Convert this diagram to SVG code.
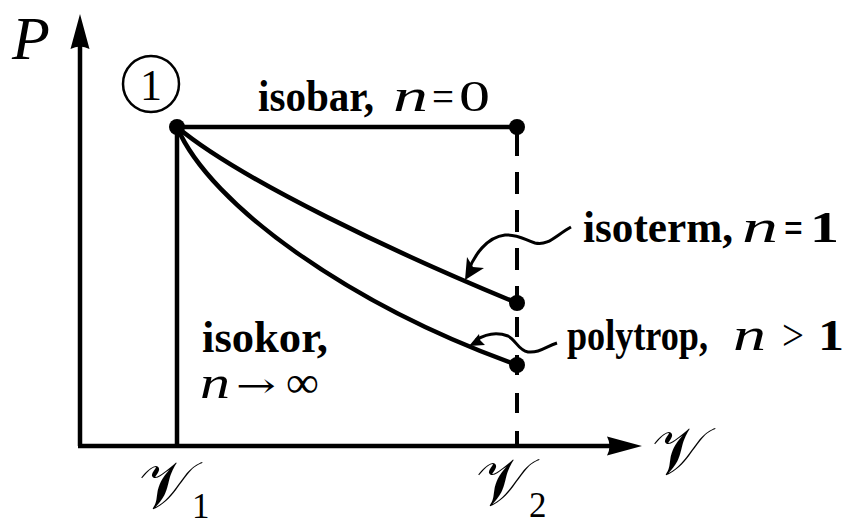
<svg xmlns="http://www.w3.org/2000/svg" width="851" height="525" viewBox="0 0 851 525">
<style>
.ln{fill:none;stroke:#000;stroke-width:4.5;stroke-linecap:butt}
.cv{fill:none;stroke:#000;stroke-width:4.5}
.ptr{fill:none;stroke:#000;stroke-width:3}
.dash{fill:none;stroke:#000;stroke-width:4}
.b{font-family:"Liberation Serif","Times New Roman",serif;font-weight:bold;font-size:44px;fill:#000}
.m{font-family:"Liberation Serif","Times New Roman",serif;font-style:italic;font-size:46px;fill:#000}
.r{font-family:"Liberation Serif","Times New Roman",serif;font-size:44px;fill:#000}
.sc{font-family:"DejaVu Serif","DejaVu Sans","Liberation Serif",serif;font-size:66px;fill:#000}
.sub{font-family:"Liberation Serif","Times New Roman",serif;font-size:35px}
</style>
<g id="axes">
<line class="ln" x1="80" y1="446" x2="80" y2="44"/>
<path d="M80,14 L89.5,49 Q80,44 70.5,49 Z" fill="#000"/>
<line class="ln" x1="78" y1="446" x2="610" y2="446"/>
<path d="M642,446 L607,455.5 Q612,446 607,436.5 Z" fill="#000"/>
<text class="m" x="12" y="59" style="font-size:62px">P</text>
<text class="sc" x="652" y="474">𝒱</text>
</g>
<g id="connectors">
<line class="ln" x1="177" y1="127" x2="177" y2="446"/>
<line class="ln" x1="177" y1="127" x2="517" y2="127"/>
<line class="dash" x1="517" y1="134" x2="517" y2="303" stroke-dasharray="22 16"/>
<line class="dash" x1="517" y1="317" x2="517" y2="446" stroke-dasharray="20 18"/>
<path class="cv" d="M177,127 C240,180 400,255 517,303"/>
<path class="cv" d="M177,127 C210,205 350,305 517,365"/>
<path class="ptr" d="M571,227 C555,236 548,246 535,243 C525,240 518,234 505,235 C487,237 474,255 468,272"/>
<path d="M465,280 L467,257 L473,267 L484,268 Z" fill="#000"/>
<path class="ptr" d="M557,343 C545,347 540,353 528,352 C518,350 516,340 508,336 C495,331 484,335 476,340"/>
<path d="M469,346 L479,334 L480,340 L485,345 Z" fill="#000"/>
</g>
<g id="state1">
<circle cx="151" cy="84" r="28" fill="none" stroke="#000" stroke-width="2.5"/>
<text class="r" x="151" y="100" text-anchor="middle">1</text>
<circle cx="177" cy="127" r="8" fill="#000"/>
</g>
<g id="isobar">
<circle cx="517" cy="127" r="8" fill="#000"/>
<text class="b" x="258" y="111" textLength="116" lengthAdjust="spacingAndGlyphs">isobar,</text>
<text class="m" x="393" y="111" textLength="35" lengthAdjust="spacingAndGlyphs">n</text>
<text class="r" x="432" y="111" textLength="22" lengthAdjust="spacingAndGlyphs">=</text>
<text class="r" x="459" y="111" textLength="31" lengthAdjust="spacingAndGlyphs">0</text>
</g>
<g id="isoterm">
<circle cx="517" cy="303" r="8" fill="#000"/>
<text class="b" x="583" y="242" textLength="150" lengthAdjust="spacingAndGlyphs">isoterm,</text>
<text class="m" x="742" y="242" textLength="36" lengthAdjust="spacingAndGlyphs">n</text>
<text class="b" x="784" y="242" textLength="19" lengthAdjust="spacingAndGlyphs">=</text>
<text class="b" x="810" y="242" textLength="29" lengthAdjust="spacingAndGlyphs">1</text>
</g>
<g id="polytrop">
<circle cx="517" cy="365" r="8" fill="#000"/>
<text class="b" x="567" y="350" textLength="141" lengthAdjust="spacingAndGlyphs">polytrop,</text>
<text class="m" x="733" y="350" textLength="33" lengthAdjust="spacingAndGlyphs">n</text>
<text class="r" x="782" y="350" textLength="22" lengthAdjust="spacingAndGlyphs">&gt;</text>
<text class="b" x="818" y="350" textLength="26" lengthAdjust="spacingAndGlyphs">1</text>
</g>
<g id="isokor">
<text class="b" x="202" y="352" textLength="126" lengthAdjust="spacingAndGlyphs">isokor,</text>
<text class="m" x="200" y="398" textLength="30" lengthAdjust="spacingAndGlyphs">n</text>
<text x="236" y="397" textLength="40" lengthAdjust="spacingAndGlyphs" style="font-family:'DejaVu Serif',serif;font-size:34px">→</text>
<text class="r" x="286" y="397" textLength="33" lengthAdjust="spacingAndGlyphs">∞</text>
</g>
<g id="v1">
<text class="sc" x="139" y="508">𝒱<tspan class="sub" x="192" y="518">1</tspan></text>
</g>
<g id="v2">
<text class="sc" x="476" y="505">𝒱<tspan class="sub" x="529" y="517">2</tspan></text>
</g>
</svg>
